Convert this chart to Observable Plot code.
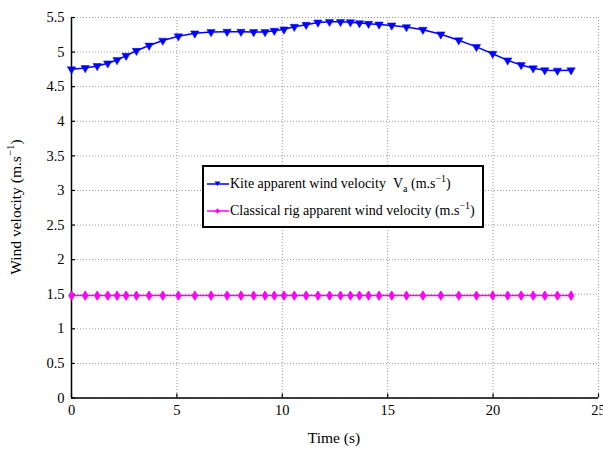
<!DOCTYPE html>
<html>
<head>
<meta charset="utf-8">
<script src="https://cdn.jsdelivr.net/npm/d3@7"></script>
<script src="https://cdn.jsdelivr.net/npm/@observablehq/plot@0.6"></script>
<style>
  html, body { margin: 0; padding: 0; background: #fff; }
  #wrap { position: relative; width: 603px; height: 449px; font-family: "Liberation Serif", "Times New Roman", serif; }
  #wrap svg text { font-family: "Liberation Serif", "Times New Roman", serif !important; }
  #legend { position: absolute; left: 202px; top: 165px; width: 278px; height: 59px; border: 2px solid #000; background: #fff; font-size: 14px; color: #000; }
  .row { position: absolute; left: 2px; height: 17px; display: flex; align-items: center; white-space: nowrap; }
  sup { font-size: 10px; vertical-align: 6px; line-height: 0; }
  sub { font-size: 10px; vertical-align: -4px; line-height: 0; }
</style>
</head>
<body>
<div id="wrap"></div>
<script>
const time = [0, 0.65, 1.22, 1.72, 2.16, 2.59, 3.08, 3.68, 4.33, 5.07, 5.85, 6.62, 7.38, 8.04, 8.64, 9.18, 9.62, 10.08, 10.57, 11.13, 11.69, 12.24, 12.76, 13.23, 13.66, 14.09, 14.59, 15.19, 15.89, 16.67, 17.52, 18.37, 19.21, 19.98, 20.69, 21.33, 21.9, 22.45, 23.05, 23.7];
const kite = [4.752, 4.771, 4.80, 4.838, 4.886, 4.948, 5.019, 5.095, 5.167, 5.229, 5.271, 5.29, 5.295, 5.295, 5.29, 5.29, 5.31, 5.329, 5.367, 5.395, 5.429, 5.438, 5.438, 5.433, 5.419, 5.41, 5.40, 5.386, 5.362, 5.324, 5.257, 5.171, 5.076, 4.976, 4.881, 4.814, 4.767, 4.738, 4.733, 4.738];
const classical = [1.48, 1.48, 1.48, 1.48, 1.48, 1.48, 1.48, 1.48, 1.48, 1.48, 1.48, 1.48, 1.48, 1.48, 1.48, 1.48, 1.48, 1.48, 1.48, 1.48, 1.48, 1.48, 1.48, 1.48, 1.48, 1.48, 1.48, 1.48, 1.48, 1.48, 1.48, 1.48, 1.48, 1.48, 1.48, 1.48, 1.48, 1.48, 1.48, 1.48];
const xTicks = [0, 5, 10, 15, 20, 25];
const yTicks = [0, 0.5, 1, 1.5, 2, 2.5, 3, 3.5, 4, 4.5, 5, 5.5];
const seriesNames = ["Kite apparent wind velocity", "Classical rig apparent wind velocity"];

const kiteData = time.map((t, i) => ({t, v: kite[i]}));
const classicalData = time.map((t, i) => ({t, v: classical[i]}));

const blue = "#0000ff", pink = "#ff00ff";
const serif = "'Liberation Serif', 'Times New Roman', serif";
const gridStyle = {stroke: "#999", strokeOpacity: 1, strokeWidth: 1, strokeDasharray: "1,2"};

const chart = Plot.plot({
  width: 603,
  height: 449,
  marginLeft: 71,
  marginRight: 5,
  marginTop: 17,
  marginBottom: 51.5,
  style: {fontFamily: serif, fontSize: "14px", color: "#000", background: "#fff"},
  x: {domain: [0, 25]},
  y: {domain: [0, 5.5]},
  marks: [
    Plot.gridX(xTicks, gridStyle),
    Plot.gridY(yTicks, gridStyle),
    Plot.axisX(xTicks, {tickSize: -4, tickPadding: 11, strokeWidth: 1.2, label: null, fontSize: 14.5, tickFormat: d => String(d)}),
    Plot.axisY(yTicks, {tickSize: -4, tickPadding: 11, strokeWidth: 1.2, label: null, fontSize: 14.5, tickFormat: d => String(d)}),
    Plot.ruleX([0], {stroke: "#000", strokeWidth: 1.5}),
    Plot.ruleY([0], {stroke: "#000", strokeWidth: 1.5}),
    Plot.line(classicalData, {x: "t", y: "v", stroke: pink, strokeWidth: 1.5}),
    Plot.dot(classicalData, {x: "t", y: "v", symbol: "diamond", r: 2.8, fill: pink, stroke: pink, strokeWidth: 1}),
    Plot.dot(classicalData, {x: "t", y: "v", symbol: "plus", r: 3.3, fill: pink, stroke: "none"}),
    Plot.line(kiteData, {x: "t", y: "v", stroke: blue, strokeWidth: 1.5}),
    Plot.dot(kiteData, {x: "t", y: "v", symbol: "triangle", rotate: 180, r: 3.1, fill: blue, stroke: blue, strokeWidth: 0.5})
  ]
});

const svg = d3.select(chart);
svg.style("font-family", serif).attr("font-family", serif);
svg.selectAll("text").attr("font-family", serif);
// y axis label with superscript
const yl = svg.append("text")
  .attr("transform", "translate(21,207) rotate(-90)")
  .attr("text-anchor", "middle")
  .attr("font-size", 15.5)
  .attr("font-family", serif)
  .attr("fill", "#000");
yl.append("tspan").text("Wind velocity (m.s");
yl.append("tspan").attr("font-size", 11).attr("dy", -7).text("−1");
yl.append("tspan").attr("dy", 7).text(")");
// x axis label
svg.append("text")
  .attr("x", 334).attr("y", 443)
  .attr("text-anchor", "middle")
  .attr("font-size", 15.5)
  .attr("font-family", serif)
  .attr("fill", "#000")
  .text("Time (s)");

const wrap = document.getElementById("wrap");
wrap.appendChild(chart);

// legend
function swatch(color, kind) {
  const sym = kind === "tri"
    ? `<path d="M8.5,2.5 L14.5,2.5 L11.5,7 Z" fill="${color}"/>`
    : `<path d="M11.5,2.3 L13.9,5 L11.5,7.7 L9.1,5 Z" fill="${color}"/>`;
  return `<svg width="24" height="10"><line x1="1" y1="5" x2="23" y2="5" stroke="${color}" stroke-width="1.5"/>${sym}</svg>`;
}
const legend = document.createElement("div");
legend.id = "legend";
legend.innerHTML =
  `<div class="row" style="top:8px">${swatch(blue, "tri")}<span>${seriesNames[0]}&nbsp;&nbsp;V<sub>a</sub>&nbsp;(m.s<sup>−1</sup>)</span></div>` +
  `<div class="row" style="top:35px">${swatch(pink, "dia")}<span>${seriesNames[1]} (m.s<sup>−1</sup>)</span></div>`;
wrap.appendChild(legend);
</script>
</body>
</html>
